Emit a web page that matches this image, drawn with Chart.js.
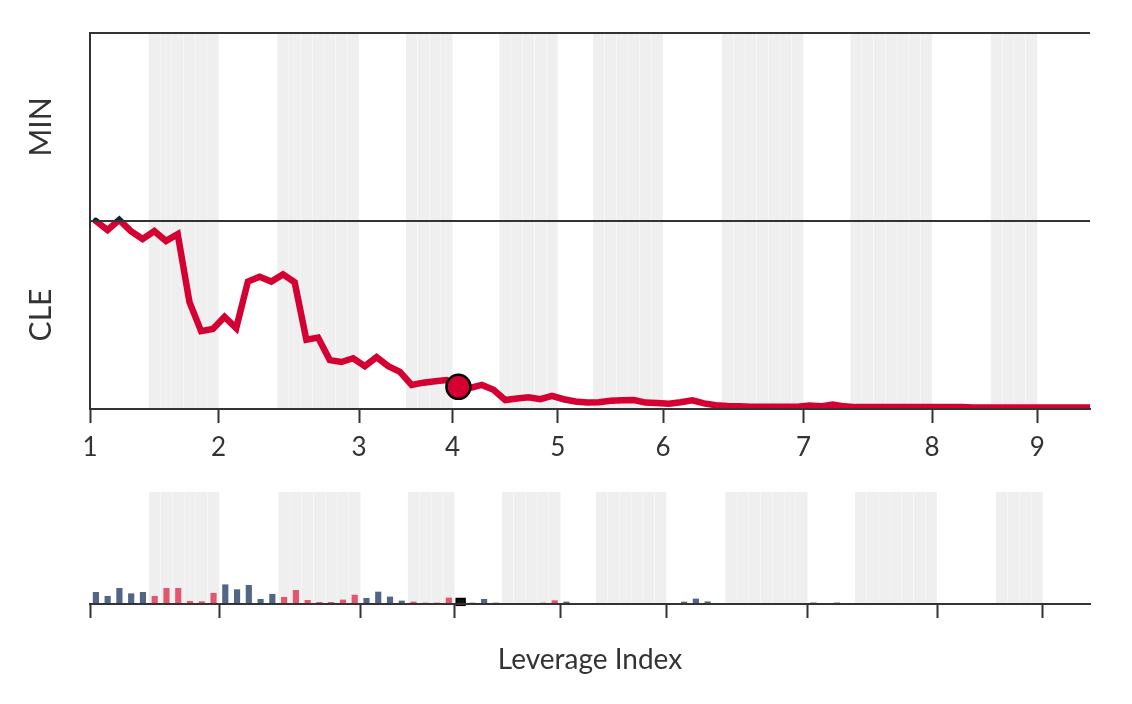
<!DOCTYPE html>
<html lang="en">

<head>
    <meta charset="UTF-8">
    <title>MIN at CLE - Win Probability</title>
    <script src="https://cdn.jsdelivr.net/npm/chart.js@4.4.1/dist/chart.umd.min.js"></script>
    <style>
    body {
        margin: 0;
        background: #fff;
    }

    #top {
        position: absolute;
        left: 0;
        top: 0;
    }

    #bottom {
        position: absolute;
        left: 0;
        top: 470px;
    }
    </style>
</head>

<body>
    <canvas id="top" width="1132" height="470"></canvas>
    <canvas id="bottom" width="1132" height="234"></canvas>
    <script>
    // innings on the x axis, ticks sit at the plate appearance where each inning starts
    const innings = ['1', '2', '3', '4', '5', '6', '7', '8', '9'];
    const inningTicks = [0, 11, 23, 31, 40, 49, 61, 72, 81];

    // bottom halves (CLE batting), shaded in grey
    const bandStart = [5, 16, 27, 35, 43, 54, 65, 77];
    const bandEnd = [11, 23, 31, 40, 49, 61, 72, 81];

    // MIN win probability after each plate appearance (1 = MIN, 0 = CLE)
    const minWinProb = [
        0.500, 0.476, 0.503, 0.473, 0.452, 0.473, 0.447, 0.465, 0.285, 0.207,
        0.213, 0.245, 0.215, 0.339, 0.352, 0.339, 0.358, 0.337, 0.184, 0.190,
        0.130, 0.125, 0.135, 0.114, 0.138, 0.114, 0.099, 0.064, 0.070, 0.074,
        0.077, 0.059, 0.056, 0.064, 0.051, 0.024, 0.028, 0.031, 0.026, 0.035,
        0.026, 0.020, 0.017, 0.018, 0.022, 0.023, 0.024, 0.017, 0.016, 0.014,
        0.018, 0.023, 0.015, 0.010, 0.008, 0.007, 0.006, 0.006, 0.006, 0.006,
        0.006, 0.009, 0.007, 0.012, 0.007, 0.005, 0.005, 0.005, 0.005, 0.005,
        0.005, 0.005, 0.005, 0.005, 0.005, 0.004, 0.004, 0.004, 0.004, 0.004,
        0.004, 0.004, 0.004, 0.004, 0.004, 0.004
    ];

    // leverage index of each plate appearance
    const leverage = [
        1.04, 0.69, 1.40, 0.92, 1.04, 0.69, 1.40, 1.40, 0.24, 0.21,
        0.96, 1.72, 1.28, 1.67, 0.42, 0.87, 0.60, 1.22, 0.33, 0.15,
        0.15, 0.36, 0.80, 0.51, 1.07, 0.63, 0.27, 0.18, 0.09, 0.09,
        0.54, 0.54, 0.09, 0.42, 0.09, 0.06, 0.00, 0.00, 0.09, 0.30,
        0.18, 0.00, 0.00, 0.00, 0.06, 0.00, 0.06, 0.00, 0.06, 0.00,
        0.18, 0.45, 0.20, 0.00, 0.00, 0.00, 0.00, 0.00, 0.00, 0.00,
        0.00, 0.10, 0.00, 0.10, 0.00, 0.00, 0.00, 0.00, 0.00, 0.00,
        0.00, 0.00, 0.00, 0.00, 0.00, 0.00, 0.00, 0.00, 0.00, 0.00,
        0.00, 0.00, 0.00, 0.00, 0.00
    ];

    const selected = 31;

    const RED = '#d50032';
    const NAVY = '#0c2340';
    const BAR_RED = '#e2576e';
    const BAR_NAVY = '#506588';
    const BAND = '#efefef';
    const INK = '#333333';
    const FONT = 'Lato, "Open Sans", sans-serif';

    function inBand(i) {
        for (let b = 0; b < bandStart.length; b++) {
            if (i >= bandStart[b] && i < bandEnd[b]) return true;
        }
        return false;
    }

    function bandBars(height) {
        const out = [];
        for (let b = 0; b < bandStart.length; b++) {
            for (let i = bandStart[b]; i < bandEnd[b]; i++) {
                out.push({ x: i + 0.5, y: height });
            }
        }
        return out;
    }

    function inningTickList(scale) {
        scale.ticks = inningTicks.map(v => ({ value: v }));
    }

    function inningLabel(value) {
        const i = inningTicks.indexOf(value);
        return i < 0 ? '' : innings[i];
    }

    // no extra room for the first/last labels, the frame is fixed
    function noEdgePadding(s) {
        s.paddingTop = 0;
        s.paddingBottom = 0;
        s.paddingLeft = 0;
        s.paddingRight = 0;
    }

    // navy above the 50% line, red below
    function lineColor(ctx) {
        const chart = ctx.chart;
        const area = chart.chartArea;
        if (!area) return RED;
        const mid = chart.scales.y.getPixelForValue(0.5);
        const f = Math.min(1, Math.max(0, (mid - area.top) / (area.bottom - area.top)));
        const g = chart.ctx.createLinearGradient(0, area.top, 0, area.bottom);
        g.addColorStop(0, NAVY);
        g.addColorStop(f, NAVY);
        g.addColorStop(f, RED);
        g.addColorStop(1, RED);
        return g;
    }

    Chart.defaults.font.family = FONT;
    Chart.defaults.color = INK;

    new Chart(document.getElementById('top'), {
        data: {
            datasets: [{
                type: 'line',
                order: 1,
                data: minWinProb.map((v, i) => ({ x: i + 0.5, y: v })),
                borderColor: lineColor,
                borderWidth: 6.5,
                borderCapStyle: 'round',
                tension: 0,
                pointRadius: ctx => ctx.dataIndex === selected ? 12 : 0,
                pointBackgroundColor: RED,
                pointBorderColor: '#000',
                pointBorderWidth: 2.5
            }, {
                type: 'bar',
                order: 2,
                data: bandBars(1),
                backgroundColor: BAND,
                categoryPercentage: 1,
                barPercentage: 0.97
            }]
        },
        options: {
            responsive: false,
            animation: false,
            events: [],
            layout: { padding: { top: 33, right: 42, left: 0, bottom: 0 } },
            plugins: { legend: { display: false }, tooltip: { enabled: false } },
            scales: {
                x: {
                    type: 'linear',
                    min: 0,
                    max: 85.5,
                    offset: false,
                    afterBuildTicks: inningTickList,
                    afterFit: s => { s.height = 61; noEdgePadding(s); },
                    grid: { offset: false, drawOnChartArea: false, tickLength: 14, tickColor: INK, tickWidth: 2, z: 1 },
                    border: { color: INK, width: 2, z: 1 },
                    ticks: {
                        autoSkip: false,
                        maxRotation: 0,
                        padding: 9,
                        color: INK,
                        font: { size: 26 },
                        callback: inningLabel
                    }
                },
                y: {
                    min: 0,
                    max: 1,
                    afterBuildTicks: s => { s.ticks = [0, 0.25, 0.5, 0.75, 1].map(v => ({ value: v })); },
                    afterFit: s => { s.width = 90; noEdgePadding(s); },
                    grid: {
                        drawTicks: false,
                        lineWidth: 2,
                        z: 1,
                        color: ctx => (ctx.tick && (ctx.tick.value === 0.5 || ctx.tick.value === 1)) ? INK : 'rgba(0,0,0,0)'
                    },
                    border: { color: INK, width: 2, z: 1 },
                    ticks: {
                        minRotation: 90,
                        maxRotation: 90,
                        crossAlign: 'center',
                        padding: 19,
                        color: INK,
                        font: { size: 30 },
                        callback: v => v === 0.75 ? 'MIN' : (v === 0.25 ? 'CLE' : '')
                    }
                }
            }
        }
    });

    new Chart(document.getElementById('bottom'), {
        data: {
            datasets: [{
                type: 'bar',
                order: 0,
                data: [{ x: selected + 0.5, y: leverage[selected] }],
                backgroundColor: '#111',
                borderColor: '#000',
                borderWidth: 2,
                borderSkipped: false,
                base: -0.18,
                clip: false,
                grouped: false,
                barThickness: 10
            }, {
                type: 'bar',
                order: 1,
                data: leverage.map((v, i) => ({ x: i + 0.5, y: v })).filter(d => d.x !== selected + 0.5),
                backgroundColor: ctx => inBand(Math.floor(ctx.raw ? ctx.raw.x : 0)) ? BAR_RED : BAR_NAVY,
                grouped: false,
                barThickness: 5.5
            }, {
                type: 'bar',
                order: 2,
                data: bandBars(10),
                backgroundColor: BAND,
                grouped: false,
                categoryPercentage: 1,
                barPercentage: 0.97
            }]
        },
        options: {
            responsive: false,
            animation: false,
            events: [],
            layout: { padding: { top: 22, right: 42, left: 90, bottom: 0 } },
            plugins: { legend: { display: false }, tooltip: { enabled: false } },
            scales: {
                x: {
                    type: 'linear',
                    min: 0,
                    max: 85,
                    offset: false,
                    afterBuildTicks: inningTickList,
                    afterFit: s => { s.height = 100; noEdgePadding(s); },
                    grid: { offset: false, drawOnChartArea: false, tickLength: 14, tickColor: INK, tickWidth: 2, z: 1 },
                    border: { color: INK, width: 2, z: 1 },
                    ticks: { display: false },
                    title: {
                        display: true,
                        text: 'Leverage Index',
                        color: INK,
                        font: { size: 28 },
                        padding: { top: 0, bottom: 27 }
                    }
                },
                y: {
                    display: false,
                    min: 0,
                    max: 10
                }
            }
        }
    });
    </script>
</body>

</html>
